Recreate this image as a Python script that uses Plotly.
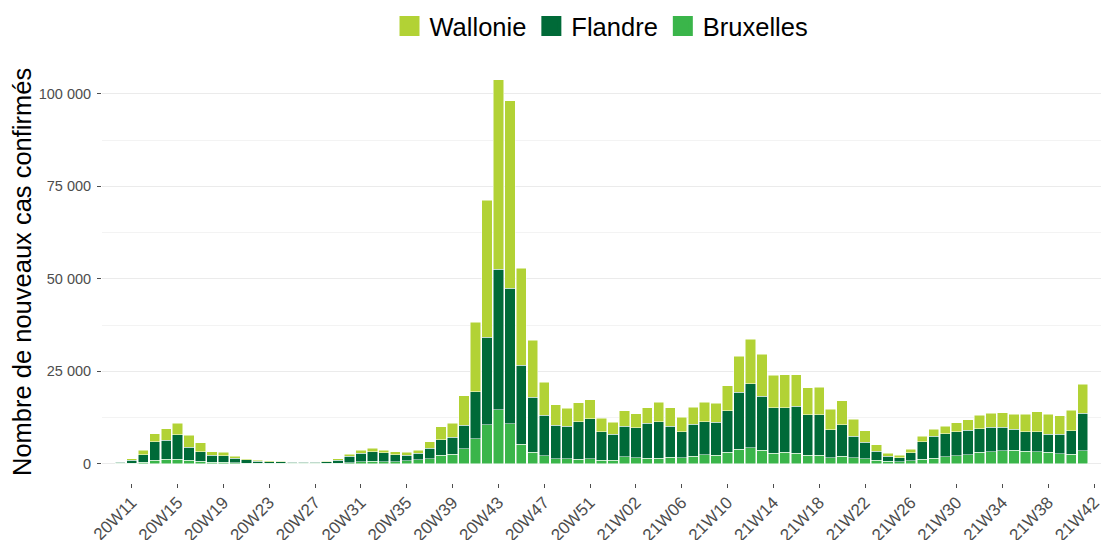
import plotly.graph_objects as go

# Week categories (20W09 .. 20W53, 21W01 .. 21W42)
weeks = [f"20W{w:02d}" for w in range(9, 54)] + [f"21W{w:02d}" for w in range(1, 43)]

bruxelles = [
    None, 100, 200, 400, 1000, 1200, 1200, 900, 700, 400,
    400, 300, 200, 150, 100, 100, 100, 100, 100, 100,
    200, 300, 600, 700, 600, 600, 800, 1100, 1400, 2300,
    2600, 4100, 6800, 10600, 14600, 10800, 5300, 3100, 2200, 1400,
    1300, 1200, 1400, 900, 900,
    1900, 1700, 1500, 1500, 1800, 1700, 2000, 2400, 2300, 3100,
    3900, 4400, 3600, 2900, 3100, 2900, 2300, 2300, 1700, 2000,
    1600, 1300, 1000, 700, 600, 800, 1200, 1500, 1900, 2200,
    2500, 3100, 3200, 3500, 3600, 3400, 3200, 3100, 2700, 2600,
    3500, None,
]
flandre = [
    None, 300, 800, 2100, 4900, 5200, 6600, 3600, 2600, 1900,
    1800, 1200, 900, 600, 500, 400, 350, 350, 350, 450,
    800, 1800, 2300, 2600, 2400, 1900, 1500, 1700, 2800, 4200,
    4600, 6300, 12700, 23600, 38000, 36700, 21300, 14900, 10900, 9000,
    8900, 10100, 10800, 7800, 7100,
    8300, 8000, 9400, 9900, 8400, 7000, 8700, 9000, 8900, 11200,
    15400, 17300, 14700, 12300, 12100, 12600, 11000, 10900, 7500, 8500,
    5800, 4500, 2400, 1300, 1100, 2200, 4700, 6000, 6200, 6400,
    6600, 6400, 6700, 6400, 5800, 5200, 5400, 4900, 5300, 6300,
    10100, None,
]
wallonie = [
    None, 100, 400, 1100, 2200, 3100, 3100, 3200, 2400, 900,
    900, 500, 300, 250, 200, 150, 150, 100, 100, 150,
    300, 500, 700, 900, 700, 800, 800, 800, 1800, 3500,
    3800, 8000, 18700, 37000, 51200, 50600, 26300, 15400, 8900, 5500,
    4800, 5200, 5100, 3600, 3200,
    4200, 3800, 4200, 5200, 4900, 3900, 4600, 5200, 5100, 6800,
    9700, 12000, 11300, 8700, 8800, 8600, 7200, 7500, 5600, 6500,
    4600, 3100, 1700, 900, 600, 1000, 1500, 1800, 2100, 2500,
    2800, 3600, 3700, 3900, 4000, 4800, 5500, 5400, 5000, 5600,
    7900, None,
]

series_names = ["Bruxelles", "Flandre", "Wallonie"]
series_colors = {"Wallonie": "#B2D235", "Flandre": "#006A38", "Bruxelles": "#3AB54A"}
series_values = {"Bruxelles": bruxelles, "Flandre": flandre, "Wallonie": wallonie}

y_tickvals = [0, 25000, 50000, 75000, 100000]
y_ticktext = ["0", "25 000", "50 000", "75 000", "100 000"]
x_tickvals = weeks[2::4]

FONT = "Liberation Sans, Arial, sans-serif"

fig = go.Figure()
for name in series_names:
    fig.add_trace(go.Bar(
        x=weeks, y=series_values[name], name=name,
        marker=dict(color=series_colors[name], line=dict(color="white", width=0.5)),
        showlegend=False,
    ))

# legend entries (larger square keys)
for name in ["Wallonie", "Flandre", "Bruxelles"]:
    fig.add_trace(go.Scatter(
        x=[None], y=[None], mode="markers", name=name,
        marker=dict(symbol="square", size=16, color=series_colors[name],
                    line=dict(color=series_colors[name], width=4)),
        showlegend=True, hoverinfo="skip",
    ))

fig.update_layout(
    width=1106, height=540,
    barmode="stack", bargap=0.1,
    paper_bgcolor="white", plot_bgcolor="white",
    margin=dict(l=102, r=5, t=61, b=57, autoexpand=False),
    font=dict(family=FONT, color="#4D4D4D"),
    legend=dict(orientation="h", x=0.5, xanchor="center", y=1.082, yanchor="middle",
                font=dict(size=25.5, color="black", family=FONT), traceorder="normal",
                itemsizing="trace"),
    xaxis=dict(
        type="category", categoryorder="array", categoryarray=weeks,
        range=[-0.6, len(weeks) - 0.4],
        tickmode="array", tickvals=x_tickvals, ticktext=x_tickvals,
        tickangle=-45, tickfont=dict(size=17, color="#4D4D4D"),
        ticks="outside", ticklen=4, tickcolor="#4D4D4D", tickwidth=1,
        ticklabelstandoff=-2,
        showgrid=False, zeroline=False, showline=False, automargin=False,
    ),
    yaxis=dict(
        range=[-5190, 108860],
        tickmode="array", tickvals=y_tickvals, ticktext=y_ticktext,
        tickfont=dict(size=14.5, color="#4D4D4D"),
        ticks="outside", ticklen=4, tickcolor="#4D4D4D", tickwidth=1,
        ticklabelstandoff=3,
        showgrid=True, gridcolor="#EBEBEB", gridwidth=1,
        minor=dict(tickvals=[12500, 37500, 62500, 87500], showgrid=True,
                   gridcolor="#F3F3F3", gridwidth=0.6, ticks=""),
        zeroline=False, showline=False, automargin=False,
    ),
    annotations=[dict(
        text="Nombre de nouveaux cas confirmés", textangle=-90,
        xref="paper", yref="paper", x=0, y=0.5, xanchor="center", yanchor="middle",
        xshift=-80, showarrow=False, font=dict(size=25.5, color="black", family=FONT),
    )],
)

fig.write_html("out.html", config={"displayModeBar": False},
               post_script="document.body.style.margin='0px';")
